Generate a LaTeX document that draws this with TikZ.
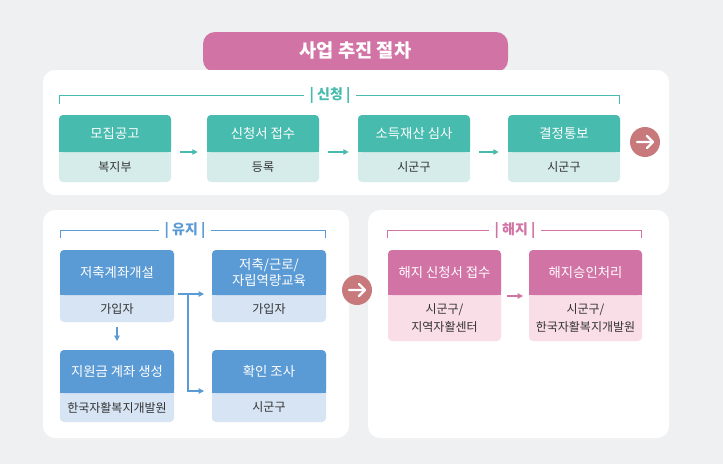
\documentclass[tikz,border=0pt]{standalone}
\usepackage{fontspec}
\setmainfont{Noto Sans CJK KR}
\usetikzlibrary{arrows.meta}
\definecolor{bg}{HTML}{EEF0F2}
\definecolor{pk}{HTML}{D273A6}
\definecolor{pksub}{HTML}{F9DDE7}
\definecolor{tl}{HTML}{46BBAE}
\definecolor{tlsub}{HTML}{D5ECEB}
\definecolor{bl}{HTML}{5B9BD5}
\definecolor{blsub}{HTML}{D6E4F4}
\definecolor{circ}{HTML}{C8797C}
\definecolor{txt}{HTML}{333333}
\tikzset{
  panel/.style={fill=white,rounded corners=9},
  hdr/.style={font=\fontsize{10}{12}\selectfont,text=white,align=center},
  sub/.style={font=\fontsize{9}{11}\selectfont,text=txt,align=center},
  conn/.style={line width=0.8pt,-{Triangle[length=4pt,width=4pt]}},
  brk/.style={line width=0.7pt},
  blabel/.style={font=\fontsize{10.5}{12}\selectfont\bfseries,fill=white,inner xsep=4pt}
}
\newcommand{\stepbox}[9]{% name x1 x2 y1 ymid y2 hcol scol header/sub via #9? 
}
\begin{document}
\begin{tikzpicture}[x=0.75pt,y=-0.75pt]
\fill[bg] (0,0) rectangle (723,464);
\useasboundingbox (0,0) rectangle (723,464);
% title
\fill[pk,rounded corners=9] (203,72) -- (203,32) -- (508,32) -- (508,72) -- cycle;
\node[text=white,font=\fontsize{14}{16}\selectfont\bfseries] (title) at (355.5,51) {사업 추진 절차};
% panels
\fill[panel] (43,70) rectangle (669,195);
\fill[panel] (43,210) rectangle (349,438);
\fill[panel] (368,210) rectangle (669,438);
% brackets
\draw[brk,tl] (59,104) -- (59,95) -- (619,95) -- (619,104);
\node[blabel,text=tl] (l1) at (330,95) {| 신청 |};
\draw[brk,bl] (60,238) -- (60,230) -- (325,230) -- (325,238);
\node[blabel,text=bl] (l2) at (185,230) {| 유지 |};
\draw[brk,pk] (387,238) -- (387,230) -- (641,230) -- (641,238);
\node[blabel,text=pk] (l3) at (515,230) {| 해지 |};
% top boxes
\foreach \n/\xa/\h/\s in {a/59/모집공고/복지부, b/207/신청서 접수/등록/읍면동/시군구, c/358/소득재산 심사/시군구, d/508/결정통보/시군구}{
  \fill[tlsub,rounded corners=3] (\xa,115) rectangle ++(112,67);
  \fill[tl,rounded corners=3] (\xa,115) rectangle ++(112,37);
  \fill[tl] (\xa,140) rectangle ++(112,12);
  \node[hdr] (\n h) at (\xa+56,133.5) {\h};
  \node[sub] (\n s) at (\xa+56,167) {\s};
  \coordinate (\n L) at (\xa,152);
  \coordinate (\n R) at (\xa+112,152);
}
\draw[conn,tl] ([xshift=7pt]aR) -- ([xshift=-7pt]bL);
\draw[conn,tl] ([xshift=7pt]bR) -- ([xshift=-7pt]cL);
\draw[conn,tl] ([xshift=7pt]cR) -- ([xshift=-7pt]dL);
% circles
\foreach \n/\cx/\cy in {c1/645/142, c2/357/290}{
  \fill[circ] (\cx,\cy) circle[radius=15];
  \node (\n) at (\cx,\cy) {};
  \draw[white,line width=1.8pt,line cap=round,line join=round] (\cx-8,\cy) -- (\cx+8,\cy) (\cx+2,\cy-6) -- (\cx+8,\cy) -- (\cx+2,\cy+6);
}
% blue boxes
\foreach \n/\xa/\ya/\hh/\tot/\h/\s in {p/60/250/45/72/저축계좌개설/가입자, q/60/350/43/72/지원금 계좌 생성/한국자활복지개발원, r/212/250/45/72/{저축/근로/\\자립역량교육}/가입자, t/212/350/43/72/확인 조사/시군구}{
  \fill[blsub,rounded corners=3] (\xa,\ya) rectangle ++(114,\tot);
  \fill[bl,rounded corners=3] (\xa,\ya) rectangle ++(114,\hh);
  \fill[bl] (\xa,\ya+\hh-10) rectangle ++(114,10);
  \node[hdr] (\n h) at (\xa+57,\ya+\hh/2) {\h};
  \node[sub] (\n s) at (\xa+57,{\ya+\hh+(\tot-\hh)/2}) {\s};
}
\coordinate (pB) at (117,327);
\coordinate (qT) at (117,341);
\draw[conn,bl] (pB) -- (qT);
\coordinate (sp) at (178,294);
\coordinate (jn) at (188,294);
\draw[conn,bl] (sp) -- (204,294);
\draw[conn,bl] (jn) -- (188,391) -- (204,391);
% pink boxes
\foreach \n/\xa/\h/\s in {u/388/해지 신청서 접수/{시군구/\\지역자활센터}, v/529/해지승인처리/{시군구/\\한국자활복지개발원}}{
  \fill[pksub,rounded corners=3] (\xa,250) rectangle ++(113,91);
  \fill[pk,rounded corners=3] (\xa,250) rectangle ++(113,45);
  \fill[pk] (\xa,285) rectangle ++(113,10);
  \node[hdr] (\n h) at (\xa+56.5,272.5) {\h};
  \node[sub,font=\fontsize{9}{13}\selectfont] (\n s) at (\xa+56.5,318) {\s};
}
\draw[conn,pk] (507,296) -- (523,296);
\end{tikzpicture}
\end{document}
